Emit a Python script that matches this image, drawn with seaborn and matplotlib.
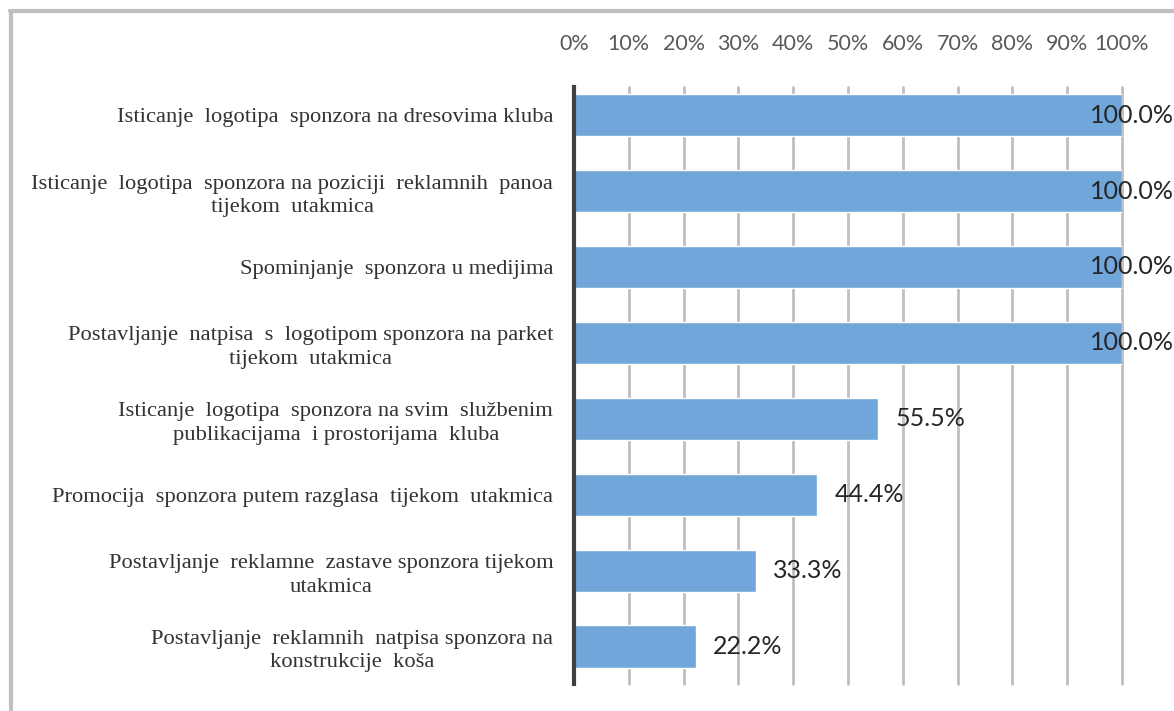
import pandas as pd
import seaborn as sns
import matplotlib
matplotlib.use('Agg')
import matplotlib.pyplot as plt
from matplotlib.lines import Line2D

# podaci
kategorije = [
    'Isticanje  logotipa  sponzora na dresovima kluba',
    'Isticanje  logotipa  sponzora na poziciji  reklamnih  panoa\ntijekom  utakmica',
    'Spominjanje  sponzora u medijima',
    'Postavljanje  natpisa  s  logotipom sponzora na parket\ntijekom  utakmica',
    'Isticanje  logotipa  sponzora na svim  službenim\npublikacijama  i prostorijama  kluba',
    'Promocija  sponzora putem razglasa  tijekom  utakmica',
    'Postavljanje  reklamne  zastave sponzora tijekom\nutakmica',
    'Postavljanje  reklamnih  natpisa sponzora na\nkonstrukcije  koša',
]
postotci = [100.0, 100.0, 100.0, 100.0, 55.5, 44.4, 33.3, 22.2]
x_ticks = [0, 10, 20, 30, 40, 50, 60, 70, 80, 90, 100]
x_tick_labels = [f'{t}%' for t in x_ticks]

df = pd.DataFrame({'kategorija': kategorije, 'postotak': postotci})

sns.set_style('white')
plt.rcParams['font.family'] = ['Lato', 'DejaVu Sans']

fig = plt.figure(figsize=(11.74, 7.11), dpi=100)
ax = fig.add_axes([0.4889, 0.038, 0.4668, 0.8397])

sns.barplot(data=df, x='postotak', y='kategorija', orient='h',
            color='#70a6d9', width=0.56, saturation=1, ax=ax, zorder=3)

ax.set_xlim(0, 100)
ax.set_ylim(7.49, -0.37)
ax.set_xticks(x_ticks)
ax.set_xticklabels(x_tick_labels, fontsize=15.5, color='#595959')
ax.xaxis.tick_top()
ax.tick_params(axis='x', length=0, pad=24)
ax.tick_params(axis='y', length=0, pad=15)
ax.set_xlabel('')
ax.set_ylabel('')
for lbl in ax.get_yticklabels():
    lbl.set_fontfamily(['Liberation Serif'])
    lbl.set_fontsize(16.2)
    lbl.set_color('#333333')
    lbl.set_multialignment('center')
    lbl.set_linespacing(1.3)

ax.grid(axis='x', color='#bfbfbf', linewidth=2, zorder=0)
ax.grid(axis='y', visible=False)
for gl in ax.get_xgridlines():
    gl.set_clip_on(False)
for s in ['top', 'right', 'bottom']:
    ax.spines[s].set_visible(False)
ax.spines['left'].set_color('#404040')
ax.spines['left'].set_linewidth(3)
ax.spines['left'].set_zorder(5)

for i, v in enumerate(postotci):
    xpos = min(v + 3.1, 94.2)
    ax.text(xpos, i, f'{v:.1f}%', ha='left', va='center', fontsize=18,
            color='#262626', zorder=6, clip_on=False)

# okvir
fig.add_artist(Line2D([0.0085, 1.0], [0.984, 0.984], color='#c0c0c0', linewidth=3))
fig.add_artist(Line2D([0.0097, 0.0097], [0.0, 0.984], color='#c0c0c0', linewidth=3))

fig.savefig('out.png', dpi=100)
